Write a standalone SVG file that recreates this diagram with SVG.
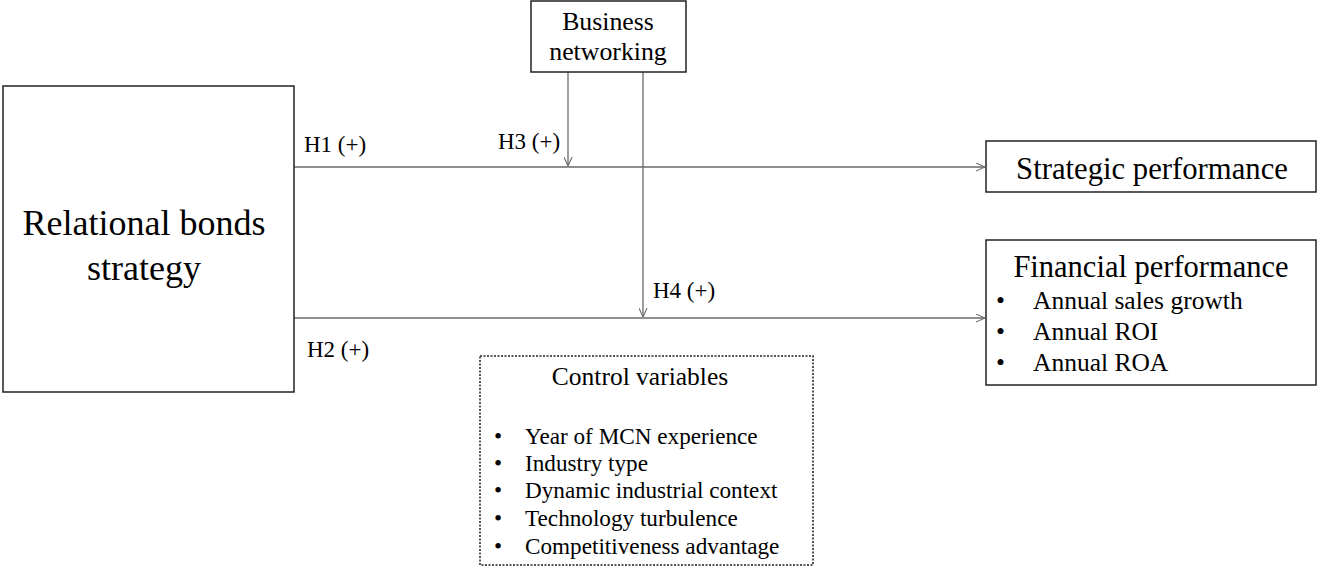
<svg xmlns="http://www.w3.org/2000/svg" width="1317" height="569" viewBox="0 0 1317 569">
  <style>
    .box { fill: #fff; stroke: #222; stroke-width: 1.5; }
    .dash { fill: #fff; stroke: #555; stroke-width: 2; stroke-dasharray: 2 1.5; }
    .t { font-family: "Liberation Serif", "Times New Roman", serif; fill: #000; }
    .h { font-size: 23px; }
    .edge { stroke: #6a6a6a; stroke-width: 1.3; fill: none; }
  </style>
  <defs>
    <marker id="open" viewBox="0 0 10 10" refX="10" refY="5" markerWidth="9" markerHeight="9" markerUnits="userSpaceOnUse" orient="auto">
      <path d="M0,0.5 L10,5 L0,9.5" fill="none" stroke="#6a6a6a" stroke-width="1.2"/>
    </marker>
  </defs>
  <rect width="1317" height="569" fill="#fff"/>

  <g id="connectors">
    <line class="edge" x1="294" y1="167" x2="985" y2="167" marker-end="url(#open)"/>
    <line class="edge" x1="294" y1="318" x2="985" y2="318" marker-end="url(#open)"/>
    <line class="edge" x1="568" y1="72" x2="568" y2="166" marker-end="url(#open)"/>
    <line class="edge" x1="643" y1="72" x2="643" y2="317" marker-end="url(#open)"/>
    <text class="t h" x="304" y="152">H1 (+)</text>
    <text class="t h" x="307" y="357">H2 (+)</text>
    <text class="t h" x="498" y="149">H3 (+)</text>
    <text class="t h" x="653" y="298">H4 (+)</text>
  </g>

  <g id="relational-bonds">
    <rect class="box" x="3" y="86" width="291" height="306"/>
    <text class="t" x="144" y="235" font-size="36" text-anchor="middle">Relational bonds</text>
    <text class="t" x="144" y="280" font-size="36" text-anchor="middle">strategy</text>
  </g>

  <g id="business-networking">
    <rect class="box" x="531" y="1" width="155" height="71"/>
    <text class="t" x="608" y="30" font-size="25.8" text-anchor="middle">Business</text>
    <text class="t" x="608" y="60" font-size="25.8" text-anchor="middle">networking</text>
  </g>

  <g id="strategic-performance">
    <rect class="box" x="986" y="141" width="330" height="51"/>
    <text class="t" x="1152" y="179" font-size="30.7" text-anchor="middle">Strategic performance</text>
  </g>

  <g id="financial-performance">
    <rect class="box" x="986" y="240" width="330" height="145"/>
    <text class="t" x="1151" y="277" font-size="30.5" text-anchor="middle">Financial performance</text>
    <g class="t" font-size="25.5">
      <text x="996" y="309">•</text>
      <text x="1033" y="309">Annual sales growth</text>
      <text x="996" y="340">•</text>
      <text x="1033" y="340">Annual ROI</text>
      <text x="996" y="371">•</text>
      <text x="1033" y="371">Annual ROA</text>
    </g>
  </g>

  <g id="control-variables">
    <rect class="dash" x="480" y="356" width="333" height="209"/>
    <text class="t" x="640" y="385" font-size="25.5" text-anchor="middle">Control variables</text>
    <g class="t" font-size="23.2">
      <text x="494" y="444">•</text>
      <text x="525" y="444">Year of MCN experience</text>
      <text x="494" y="471">•</text>
      <text x="525" y="471">Industry type</text>
      <text x="494" y="498">•</text>
      <text x="525" y="498">Dynamic industrial context</text>
      <text x="494" y="526">•</text>
      <text x="525" y="526">Technology turbulence</text>
      <text x="494" y="554">•</text>
      <text x="525" y="554">Competitiveness advantage</text>
    </g>
  </g>
</svg>
